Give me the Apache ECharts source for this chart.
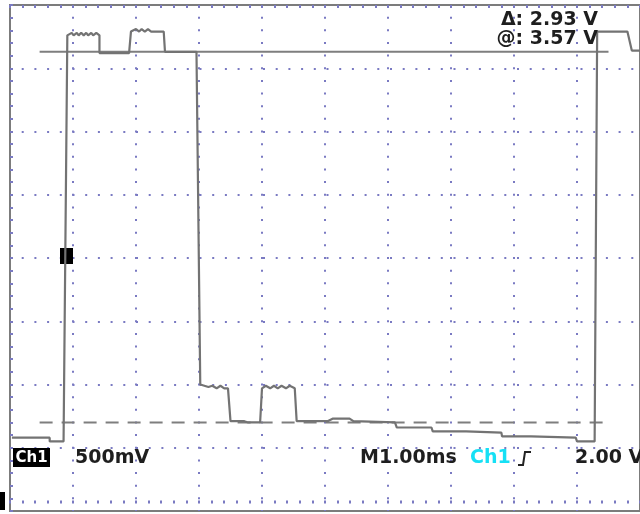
<!DOCTYPE html>
<html>
<head>
<meta charset="utf-8">
<script src="https://cdn.jsdelivr.net/npm/echarts@6/dist/echarts.min.js"></script>
<style>
  html, body { margin: 0; padding: 0; background: #ffffff; }
  #scope { width: 640px; height: 514px; }
</style>
</head>
<body>
<div id="scope"></div>
<script>
// Channel 1 capture: time in ms (1.00 ms/div), voltage in V (500 mV/div)
const timeMs = [
  0.03, 0.63, 0.63, 0.85, 0.91, 0.94, 0.98, 1.01, 1.06, 1.09, 1.13, 1.17, 1.21,
  1.24, 1.29, 1.32, 1.37, 1.42, 1.42, 1.89, 1.92, 1.95, 2.00, 2.05, 2.09, 2.14,
  2.19, 2.24, 2.28, 2.44, 2.46, 2.96, 3.02, 3.15, 3.21, 3.28, 3.34, 3.40, 3.46,
  3.50, 3.72, 3.78, 3.97, 4.00, 4.06, 4.13, 4.19, 4.25, 4.31, 4.38, 4.44, 4.52,
  4.55, 5.04, 5.12, 5.39, 5.45, 6.11, 6.14, 6.69, 6.71, 7.24, 7.26, 7.80, 7.81,
  8.27, 8.28, 8.98, 9.00, 9.28, 9.32, 9.80, 9.87, 10.0
];
const volts = [
  0.52, 0.52, 0.49, 0.49, 3.70, 3.71, 3.72, 3.70, 3.72, 3.70, 3.72, 3.70, 3.72,
  3.70, 3.72, 3.70, 3.72, 3.70, 3.56, 3.56, 3.73, 3.74, 3.75, 3.73, 3.75, 3.73,
  3.75, 3.73, 3.73, 3.73, 3.57, 3.57, 0.94, 0.92, 0.93, 0.91, 0.93, 0.91, 0.91,
  0.65, 0.65, 0.64, 0.64, 0.91, 0.93, 0.91, 0.93, 0.91, 0.93, 0.91, 0.93, 0.91,
  0.65, 0.65, 0.67, 0.67, 0.65, 0.64, 0.60, 0.60, 0.57, 0.57, 0.56, 0.56, 0.53,
  0.53, 0.52, 0.52, 0.49, 0.49, 3.73, 3.73, 3.58, 3.58
];

// Horizontal voltage cursors
const cursorAt = 3.57;
const cursorDelta = 2.93;
const cursorSpan = [0.47, 9.5];

// Readouts
const voltsPerDiv = '500mV';
const timePerDiv = 'M1.00ms';
const triggerSource = 'Ch1';
const triggerLevel = '2.00 V';

const screenMin = -0.06, screenMax = 3.94;

const chart = echarts.init(document.getElementById('scope'), null, { renderer: 'canvas' });

const dotColor = '#7a7ac2';
const traceColor = '#737373';
const readFont = 'bold 19px "DejaVu Sans"';

const tickStyle = {
  show: true, inside: true, length: 3,
  lineStyle: { color: dotColor, width: 2 }
};

const cursorLow = +(cursorAt - cursorDelta).toFixed(2);

chart.setOption({
  animation: false,
  backgroundColor: '#ffffff',
  grid: {
    left: 10, top: 5, right: -5, bottom: 3,
    show: true, borderColor: '#7c7c7c', borderWidth: 2,
    backgroundColor: 'transparent'
  },
  xAxis: [{
    type: 'value', min: 0, max: 10, interval: 1,
    axisLine: { show: false },
    axisLabel: { show: false },
    axisTick: tickStyle,
    minorTick: { show: true, splitNumber: 5, length: 3, lineStyle: { color: dotColor, width: 2 } },
    splitLine: {
      show: true, showMinLine: false, showMaxLine: false,
      lineStyle: { color: dotColor, width: 2, type: [2, 10.65], dashOffset: 1 }
    }
  }, {
    type: 'value', min: 0, max: 10, interval: 1, position: 'top',
    axisLine: { show: false },
    axisLabel: { show: false },
    axisTick: tickStyle,
    minorTick: { show: true, splitNumber: 5, length: 3, lineStyle: { color: dotColor, width: 2 } },
    splitLine: { show: false }
  }],
  yAxis: [{
    type: 'value', min: screenMin, max: screenMax, interval: 0.5,
    axisLine: { show: false },
    axisLabel: { show: false },
    axisTick: tickStyle,
    minorTick: { show: true, splitNumber: 5, length: 3, lineStyle: { color: dotColor, width: 2 } },
    splitLine: {
      show: true, showMinLine: false, showMaxLine: false,
      lineStyle: { color: dotColor, width: 2, type: [2, 10.7], dashOffset: 1 }
    }
  }],
  series: [{
    name: 'cursor-at',
    type: 'line', xAxisIndex: 0, yAxisIndex: 0,
    data: [[cursorSpan[0], cursorAt], [cursorSpan[1], cursorAt]],
    showSymbol: false, silent: true, z: 2,
    lineStyle: { color: '#7e7e7e', width: 2 }
  }, {
    name: 'cursor-delta',
    type: 'line', xAxisIndex: 0, yAxisIndex: 0,
    data: [[cursorSpan[0], cursorLow], [cursorSpan[1], cursorLow]],
    showSymbol: false, silent: true, z: 2,
    lineStyle: { color: '#7e7e7e', width: 2, type: [13, 9] }
  }, {
    name: 'Ch1',
    type: 'line', xAxisIndex: 0, yAxisIndex: 0,
    data: timeMs.map((t, i) => [t, volts[i]]),
    showSymbol: false, silent: true, z: 3,
    lineStyle: { color: traceColor, width: 2.2 }
  }],
  graphic: [
    // channel marker on the left
    { type: 'rect', z: 1, shape: { x: 60, y: 248, width: 13, height: 16 }, style: { fill: '#000' } },
    // ground marker, bottom-left corner
    { type: 'rect', z: 1, shape: { x: 0, y: 492, width: 5, height: 18 }, style: { fill: '#000' } },
    // cursor readouts
    { type: 'text', z: 10, x: 598, y: 20, style: { text: 'Δ: ' + cursorDelta.toFixed(2) + ' V', font: readFont, fill: '#1e1e1e', textAlign: 'right', textVerticalAlign: 'middle' } },
    { type: 'text', z: 10, x: 598, y: 39, style: { text: '@: ' + cursorAt.toFixed(2) + ' V', font: readFont, fill: '#1e1e1e', textAlign: 'right', textVerticalAlign: 'middle' } },
    // bottom status line
    { type: 'rect', z: 10, shape: { x: 13, y: 448, width: 37, height: 19 }, style: { fill: '#000' } },
    { type: 'text', z: 11, x: 31.5, y: 458, style: { text: 'Ch1', font: 'bold 15px "DejaVu Sans"', fill: '#fff', textAlign: 'center', textVerticalAlign: 'middle' } },
    { type: 'text', z: 10, x: 75, y: 458, style: { text: voltsPerDiv, font: readFont, fill: '#1e1e1e', textAlign: 'left', textVerticalAlign: 'middle' } },
    { type: 'text', z: 10, x: 360, y: 458, style: { text: timePerDiv, font: readFont, fill: '#1e1e1e', textAlign: 'left', textVerticalAlign: 'middle' } },
    { type: 'text', z: 10, x: 470, y: 458, style: { text: triggerSource, font: readFont, fill: '#16e0f5', textAlign: 'left', textVerticalAlign: 'middle' } },
    { type: 'polyline', z: 10, shape: { points: [[518, 465], [523, 465], [525, 452], [531, 452]] }, style: { stroke: '#222', lineWidth: 2, fill: null } },
    { type: 'text', z: 10, x: 575, y: 458, style: { text: triggerLevel, font: readFont, fill: '#1e1e1e', textAlign: 'left', textVerticalAlign: 'middle' } }
  ]
});
</script>
</body>
</html>
